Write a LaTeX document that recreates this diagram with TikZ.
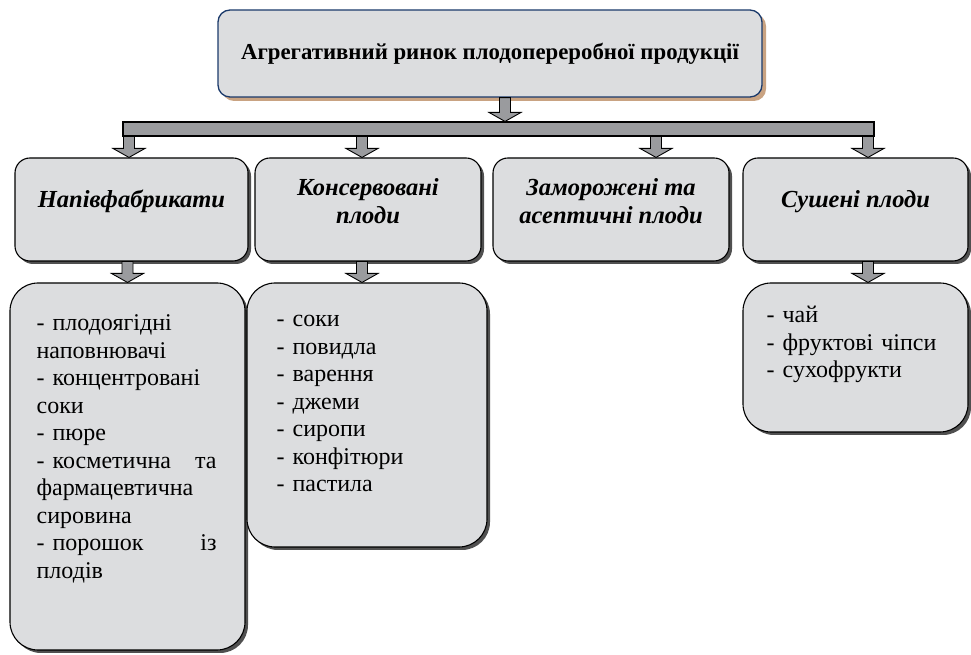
\documentclass[tikz,border=0pt]{standalone}
\usepackage{fontspec}
\setmainfont{Liberation Serif}
\usetikzlibrary{shadows,calc}
\definecolor{boxgray}{HTML}{DCDDDF}
\definecolor{arrgray}{HTML}{9A9B9E}
\definecolor{navyline}{HTML}{1B3A6B}
\definecolor{tanshadow}{HTML}{C9A382}
\definecolor{darkshadow}{HTML}{505050}
\tikzset{
  topbox/.style={draw=navyline, line width=1.3pt, fill=boxgray, rounded corners=12pt,
    drop shadow={shadow xshift=4pt, shadow yshift=-4pt, fill=tanshadow, opacity=1}},
  catbox/.style={draw=black, line width=1.1pt, fill=boxgray, rounded corners=15pt,
    drop shadow={shadow xshift=3pt, shadow yshift=-3pt, fill=darkshadow, opacity=1}},
  listbox/.style={catbox, rounded corners=28pt},
  cattext/.style={font=\fontsize{24.5}{28}\selectfont\bfseries\itshape, align=center},
  listtext/.style={font=\fontsize{24}{27.5}\selectfont, align=left, anchor=north west, inner sep=0pt},
  bus/.style={draw=black, line width=1.1pt, fill=arrgray, inner sep=0pt},
  fatarr/.style={draw=black, line width=0.9pt, fill=arrgray, line join=miter}
}
\newcommand{\fatarrow}[2]{\draw[fatarr] let \p1=#1, \p2=#2 in
  (\x2-5.5pt,\y1) -- (\x2-5.5pt,\y2+9pt) -- (\x2-16pt,\y2+9pt) -- (\x2,\y2)
  -- (\x2+16pt,\y2+9pt) -- (\x2+5.5pt,\y2+9pt) -- (\x2+5.5pt,\y1) -- cycle;}

\begin{document}
\begin{tikzpicture}[x=1pt,y=1pt]
\useasboundingbox (0,0) rectangle (971,655);

\node[topbox, minimum width=544pt, minimum height=87pt, font=\fontsize{22.8}{26}\selectfont\bfseries] (top) at (490,601.5) {Агрегативний ринок плодопереробної продукції};

\node[bus, minimum width=751pt, minimum height=14pt] (bar) at (498.5,526) {};

\node[catbox, minimum width=233pt, minimum height=103pt] (semi) at (131.5,445.5) {};
\node[catbox, minimum width=226pt, minimum height=103pt] (cons) at (368,445.5) {};
\node[catbox, minimum width=236pt, minimum height=103pt] (frozen) at (611,445.5) {};
\node[catbox, minimum width=225pt, minimum height=103pt] (dried) at (855.5,445.5) {};
\node[cattext] at ([yshift=8pt]semi.center) {Напівфабрикати};
\node[cattext] at ([yshift=8pt]cons.center) {Консервовані\\плоди};
\node[cattext] at ([yshift=8pt]frozen.center) {Заморожені та\\асептичні плоди};
\node[cattext] at ([yshift=8pt]dried.center) {Сушені плоди};

\node[listbox, minimum width=235pt, minimum height=367pt] (semilist) at (127.5,188.5) {};
\node[listbox, minimum width=240pt, minimum height=264pt] (conslist) at (367,240) {};
\node[listbox, minimum width=225pt, minimum height=149pt] (driedlist) at (855.5,297.5) {};
\node[listtext, text width=180pt] at ([xshift=27pt,yshift=-29pt]semilist.north west) {\strut- плодоягідні\\
наповнювачі\\
- концентровані\\
соки\\
- пюре\\
- косметична\hfill та\\
фармацевтична\\
сировина\\
- порошок\hfill із\\
плодів};
\node[listtext, text width=190pt] at ([xshift=30pt,yshift=-25pt]conslist.north west) {\strut- соки\\
- повидла\\
- варення\\
- джеми\\
- сиропи\\
- конфітюри\\
- пастила};
\node[listtext, text width=190pt] at ([xshift=24pt,yshift=-21pt]driedlist.north west) {\strut- чай\\
- фруктові чіпси\\
- сухофрукти};

\fatarrow{(top.south)}{([xshift=6.5pt]bar.north)}
\fatarrow{(bar.south)}{([xshift=-2.5pt]semi.north)}
\fatarrow{(bar.south)}{([xshift=-6pt]cons.north)}
\fatarrow{(bar.south)}{([xshift=45pt]frozen.north)}
\fatarrow{(bar.south)}{([xshift=12.5pt]dried.north)}
\fatarrow{(semi.south)}{(semilist.north)}
\fatarrow{(cons.south)}{([xshift=-5pt]conslist.north)}
\fatarrow{(dried.south)}{([xshift=12.5pt]driedlist.north)}
\end{tikzpicture}
\end{document}
